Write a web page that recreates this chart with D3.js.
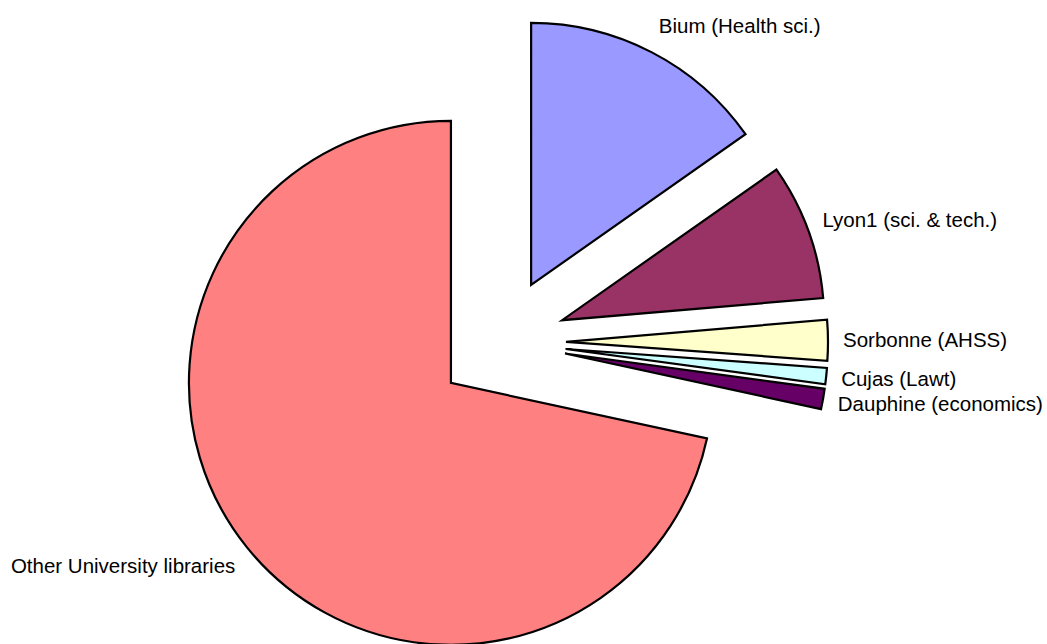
<!DOCTYPE html>
<html>
<head>
<meta charset="UTF-8">
<script src="https://d3js.org/d3.v7.min.js"></script>
<style>
  * { margin: 0; padding: 0; }
  body { background: #fff; width: 1047px; height: 644px; overflow: hidden; }
  svg { display: block; }
  text { font-family: 'Liberation Sans', Arial, sans-serif; font-size: 20.5px; fill: #000; }
</style>
</head>
<body>
<svg id="chart"></svg>
<script>
// share of documents by library (percent)
const labels = ['Bium (Health sci.)', 'Lyon1 (sci. & tech.)', 'Sorbonne (AHSS)', 'Cujas (Lawt)', 'Dauphine (economics)', 'Other University libraries'];
const values = [15.25, 8.4, 2.5, 1.0, 1.25, 71.6];
const colors = ['#9999ff', '#993366', '#ffffcc', '#ccffff', '#660066', '#ff8080'];

const W = 1047, H = 644;
const cx = 501.3, cy = 342.3, R = 262, EXPLODE = 64.7;

const svg = d3.select('#chart').attr('width', W).attr('height', H);
const g = svg.append('g').attr('transform', `translate(${cx},${cy})`);

const data = labels.map((l, i) => ({ label: l, value: values[i], color: colors[i] }));
const pie = d3.pie().sort(null).value(d => d.value);
const arc = d3.arc().innerRadius(0).outerRadius(R);

const slices = pie(data);

slices.forEach(s => {
  const mid = (s.startAngle + s.endAngle) / 2;
  const ox = Math.sin(mid) * EXPLODE, oy = -Math.cos(mid) * EXPLODE;
  const sg = g.append('g').attr('transform', `translate(${ox},${oy})`);
  sg.append('path')
    .attr('d', arc(s))
    .attr('fill', s.data.color)
    .attr('stroke', '#000')
    .attr('stroke-width', 2.2)
    .attr('stroke-linejoin', 'miter');

  // label just outside the arc, left or right aligned by side
  const right = Math.sin(mid) >= 0;
  const lx = Math.sin(mid) * (R + 15);
  const ly = -Math.cos(mid) * (R + 30) + 7;
  sg.append('text')
    .attr('x', lx)
    .attr('y', ly)
    .attr('text-anchor', right ? 'start' : 'end')
    .text(s.data.label);
});
</script>
</body>
</html>
